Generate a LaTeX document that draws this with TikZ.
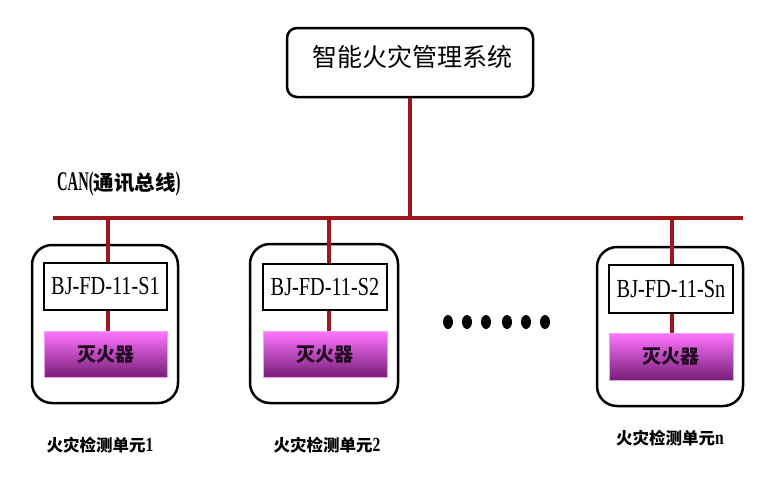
\documentclass[tikz,border=0pt]{standalone}
\usepackage{fontspec}
\setmainfont{Liberation Serif}
\newfontfamily\cjk{Noto Sans CJK SC}
\newfontfamily\latA[FakeStretch=0.78]{Liberation Serif}
\newfontfamily\latB[FakeStretch=0.54]{Liberation Serif}
\definecolor{busred}{RGB}{160,22,30}
\definecolor{magtop}{RGB}{255,118,255}
\definecolor{magmid}{RGB}{214,92,214}
\definecolor{magbot}{RGB}{118,30,120}
\definecolor{magedge}{RGB}{240,160,240}
\definecolor{exttext}{RGB}{35,8,35}
\begin{document}
\begin{tikzpicture}[x=1pt,y=-1pt,
  bus/.style={draw=busred,line width=3.4pt},
  sysbox/.style={draw,line width=2.5pt,rounded corners=10pt,minimum width=246pt,minimum height=69pt,inner sep=0pt},
  unitbox/.style={draw,line width=2.5pt,rounded corners=20pt,minimum width=146pt,minimum height=158pt,inner sep=0pt},
  idbox/.style={draw,line width=1.4pt,minimum width=124pt,minimum height=47pt,inner sep=0pt,font=\latA\fontsize{26}{26}\selectfont},
  extbox/.style={draw=magedge,line width=1pt,top color=magtop,middle color=magmid,bottom color=magbot,minimum width=124pt,minimum height=46pt,inner sep=0pt,font=\cjk\bfseries\fontsize{19}{19}\selectfont,text=exttext},
  unitlabel/.style={font=\cjk\bfseries\fontsize{16.5}{16.5}\selectfont,inner sep=0pt},
  dot/.style={fill=black}]
\useasboundingbox (0,0) rectangle (778,480);

% system box
\node[sysbox] (sys) at (410,62.5) {};
\node[font=\cjk\fontsize{25}{25}\selectfont,inner sep=0pt] (systxt) at (412,57) {智能火灾管理系统};

% bus
\coordinate (busL) at (53,218);
\coordinate (busR) at (743,218);
\draw[bus] (busL) -- (busR);
\draw[bus] (sys.south) -- (sys.south |- busL);

% CAN label
\node[anchor=west,inner sep=0pt] (can) at (57,184)
  {{\latB\bfseries\fontsize{27}{27}\selectfont CAN(}{\cjk\bfseries\fontsize{20.5}{20.5}\selectfont 通讯总线}{\latB\bfseries\fontsize{27}{27}\selectfont )}};

% units
\node[unitbox,minimum width=146pt,minimum height=158pt] (u1) at (105,324) {};
\node[unitbox,minimum width=148pt,minimum height=159pt] (u2) at (324,323.5) {};
\node[unitbox,minimum width=146pt,minimum height=159pt] (un) at (670,326.5) {};

\node[idbox,minimum width=123pt] (in1) at (105.5,286.5) {BJ-FD-11-S1};
\node[idbox,minimum height=46pt] (in2) at (325,287) {BJ-FD-11-S2};
\node[idbox,minimum height=48pt] (inn) at (671,289) {BJ-FD-11-Sn};

\node[extbox,minimum width=123pt] (ex1) at (105.5,354) {灭火器};
\node[extbox] (ex2) at (325,354) {灭火器};
\node[extbox,minimum height=47pt] (exn) at (671,356.5) {灭火器};

% branches
\coordinate (t1) at (108,218);
\coordinate (t2) at (329,218);
\coordinate (tn) at (672,218);
\draw[bus] (t1) -- (t1 |- in1.north);
\draw[bus] (t2) -- (t2 |- in2.north);
\draw[bus] (tn) -- (tn |- inn.north);
\draw[bus] (t1 |- in1.south) -- (t1 |- ex1.north);
\draw[bus] (t2 |- in2.south) -- (t2 |- ex2.north);
\draw[bus] (tn |- inn.south) -- (tn |- exn.north);

% dots
\foreach \x in {448,467,486,507,526,545} \fill[dot] (\x,322) ellipse (5pt and 7pt);

% unit labels
\node[unitlabel] (l1) at (100,445) {火灾检测单元{\latA\bfseries\fontsize{20}{20}\selectfont 1}};
\node[unitlabel] (l2) at (327,445) {火灾检测单元{\latA\bfseries\fontsize{20}{20}\selectfont 2}};
\node[unitlabel] (ln) at (670,438) {火灾检测单元{\latA\bfseries\fontsize{20}{20}\selectfont n}};
\end{tikzpicture}
\end{document}
